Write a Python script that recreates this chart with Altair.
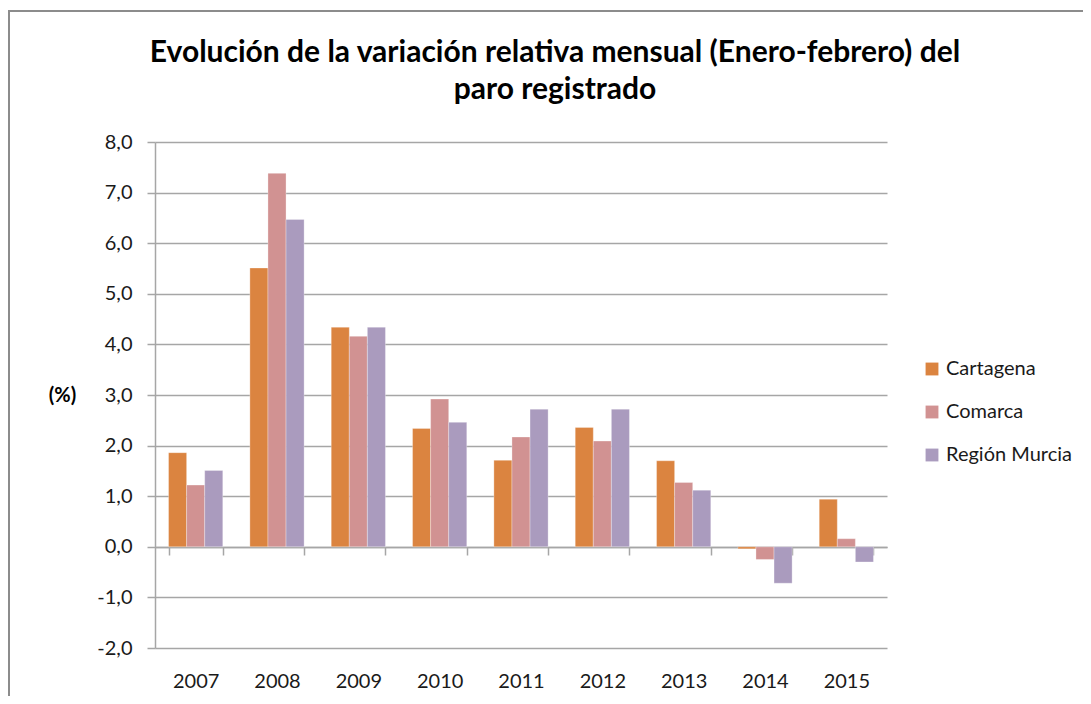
import altair as alt
import pandas as pd

years = ["2007", "2008", "2009", "2010", "2011", "2012", "2013", "2014", "2015"]
series = ["Cartagena", "Comarca", "Región Murcia"]
cartagena = [1.86, 5.51, 4.34, 2.34, 1.71, 2.36, 1.70, -0.04, 0.94]
comarca = [1.22, 7.38, 4.16, 2.92, 2.17, 2.09, 1.27, -0.25, 0.16]
region = [1.51, 6.47, 4.34, 2.46, 2.72, 2.72, 1.12, -0.72, -0.30]
colors = ["#DB8440", "#D19292", "#AA9BBE"]
title_lines = ["Evolución de la variación relativa mensual (Enero-febrero) del",
               "paro registrado"]

rows = []
for name, vals in zip(series, [cartagena, comarca, region]):
    for y, v in zip(years, vals):
        rows.append({"year": y, "serie": name, "valor": v})
df = pd.DataFrame(rows)
one = pd.DataFrame({"k": [0]})

FONT = "Lato"

bars = alt.Chart(df).mark_bar(stroke="white", strokeOpacity=0.5, strokeWidth=0.6).encode(
    x=alt.X("year:N", sort=years,
            scale=alt.Scale(paddingInner=1/3, paddingOuter=1/6),
            axis=alt.Axis(title=None, labelAngle=0, offset=-101, domainColor="#a6a6a6",
                          domainWidth=1.5, tickColor="#a6a6a6", tickWidth=1.5, tickSize=8,
                          tickBand="extent", labelPadding=116, labelFontSize=20,
                          labelColor="#1a1a1a", labelFont=FONT, grid=False)),
    xOffset=alt.XOffset("serie:N", sort=series),
    y=alt.Y("valor:Q", scale=alt.Scale(domain=[-2, 8], nice=False, zero=False),
            axis=alt.Axis(title="(%)", values=list(range(-2, 9)),
                          labelExpr="replace(replace(format(datum.value, '.1f'), '.', ','), '\u2212', '-')",
                          labelFontSize=20, labelColor="#1a1a1a", labelFont=FONT,
                          labelPadding=15, tickSize=8, tickColor="#a6a6a6", tickWidth=1.5,
                          domainColor="#a6a6a6", domainWidth=1.5,
                          gridColor="#a6a6a6", gridWidth=1.5,
                          titleAngle=0, titleX=-93, titleY=253, titleAlign="center",
                          titleBaseline="middle", titleFontSize=20, titleFontWeight="bold",
                          titleFont=FONT, titleColor="#000000")),
    color=alt.Color("serie:N", sort=series,
                    scale=alt.Scale(domain=series, range=colors),
                    legend=alt.Legend(title=None, orient="none", legendX=767, legendY=217,
                                      symbolType="square", symbolSize=165, symbolStrokeWidth=0,
                                      labelFontSize=20, labelFont=FONT, labelColor="#1a1a1a",
                                      rowPadding=23, labelOffset=4)),
)

title = alt.Chart(one).mark_text(
    font=FONT, fontSize=30, fontWeight="bold", color="#000000",
    align="center", baseline="alphabetic", lineHeight=37,
).encode(x=alt.value(400), y=alt.value(-80), text=alt.value(title_lines))

border_top = alt.Chart(one).mark_rule(color="#8c8c8c", strokeWidth=2).encode(
    x=alt.value(-147), x2=alt.value(950), y=alt.value(-131)
)
border_left = alt.Chart(one).mark_rule(color="#8c8c8c", strokeWidth=2).encode(
    x=alt.value(-146), y=alt.value(-132), y2=alt.value(570)
)

chart = alt.layer(bars, title, border_top, border_left).properties(
    width=732, height=506,
    autosize=alt.AutoSizeParams(type="none"),
    padding={"left": 147, "top": 134, "right": 196, "bottom": 48},
).configure_view(stroke=None)

chart.save("out.html", embed_options={"renderer": "svg", "actions": False})
